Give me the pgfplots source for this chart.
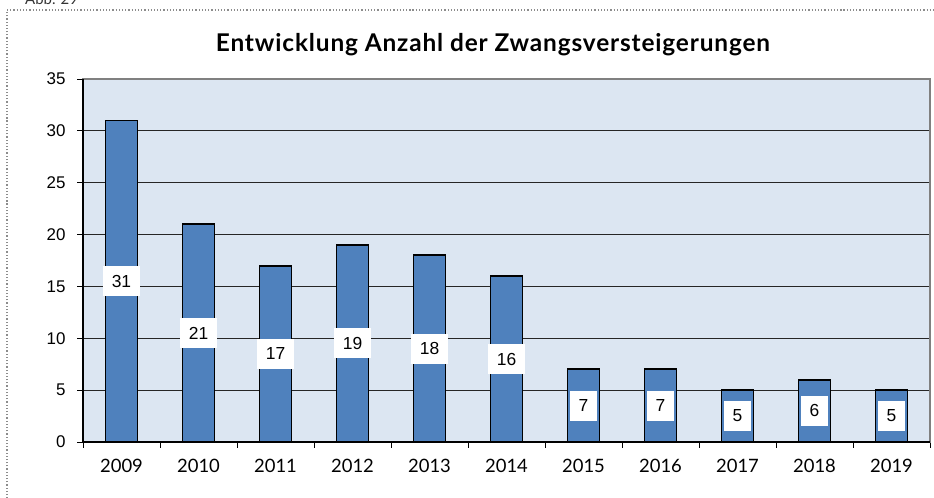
\documentclass[border=0pt]{standalone}
\usepackage{pgfplots}
\usepackage{pgfplotstable}
\pgfplotsset{compat=1.18}
\usepackage{fontspec}
\setmainfont{Lato}
\newfontfamily\arialfont{Liberation Sans}
\definecolor{bgc}{HTML}{DCE6F2}
\definecolor{barc}{HTML}{4F81BD}
\pgfplotstableread{
x y
0 31
1 21
2 17
3 19
4 18
5 16
6 7
7 7
8 5
9 6
10 5
}\datatable
\begin{document}
\begin{tikzpicture}[x=1bp,y=1bp]
\useasboundingbox (0,0) rectangle (934,498);
\draw[black!45, dotted, line width=1.2bp] (7,-10) rectangle (960,488);
\node[anchor=base west, font=\fontsize{15}{17}\selectfont, text=black!80, inner sep=0pt] at (25,493) {Abb. 29};
\node[font=\bfseries\fontsize{24.5}{28}\selectfont\addfontfeatures{LetterSpace=3.5}] at (493,453) {Entwicklung Anzahl der Zwangsversteigerungen};
\begin{axis}[at={(83bp,56bp)}, anchor=south west, scale only axis,
  width=847bp, height=363bp,
  xmin=-0.5, xmax=10.5, ymin=0, ymax=35,
  axis background/.style={fill=bgc},
  axis line style={black!50, line width=1.5bp},
  ymajorgrids, grid style={black!85, line width=0.8bp},
  ytick={0,5,...,35}, ytick pos=left,
  xtick={-0.5,0.5,...,10.5}, xtick pos=bottom,
  xticklabels={2009,2010,2011,2012,2013,2014,2015,2016,2017,2018,2019},
  x tick label as interval,
  tick align=outside, major tick length=6bp,
  tick style={black, line width=0.8bp},
  /pgf/number format/assume math mode=true,
  yticklabel style={font=\arialfont\fontsize{17}{19}\selectfont, xshift=-8bp},
  xticklabel style={font=\fontsize{18.5}{21}\selectfont, yshift=-8bp},
  clip=false,
]
\addplot[ybar, bar width=32bp, fill=barc, draw=black, line width=1.8bp] table[x=x, y=y] \datatable;
\addplot[draw=none, mark=none, nodes near coords, point meta=explicit symbolic,
  nodes near coords style={anchor=center, fill=white, text=black,
    font=\arialfont\fontsize{17.5}{19}\selectfont, inner xsep=8.5bp, inner ysep=0pt,
    minimum height=30bp}]
  table[x=x, y expr=\thisrow{y}/2, meta=y] \datatable;
\draw[black, line width=1.2bp] (rel axis cs:0,1) -- (rel axis cs:0,0) -- (rel axis cs:1,0);
\end{axis}
\end{tikzpicture}
\end{document}
